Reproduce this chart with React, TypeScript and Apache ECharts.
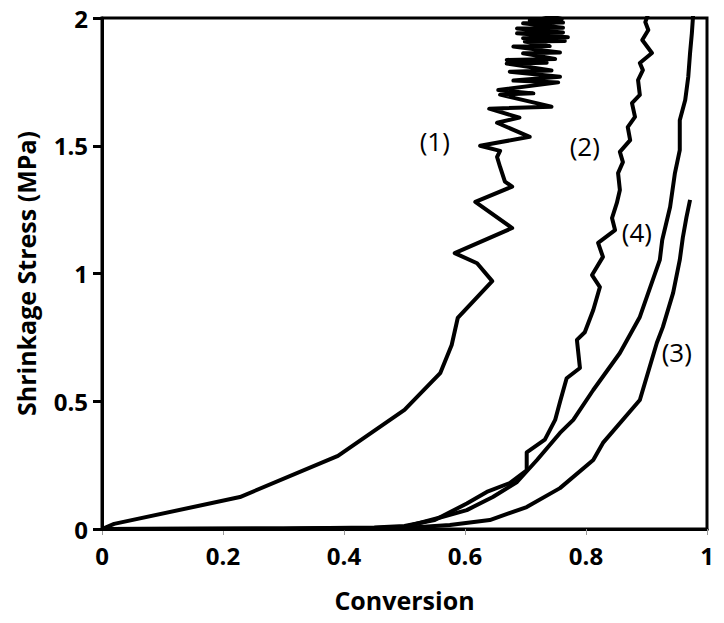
import React, { useEffect, useRef } from "react";
import * as echarts from "echarts";

const xTicks = { min: 0, max: 1, interval: 0.2 };
const yTicks = { min: 0, max: 2, interval: 0.5 };

const curve1: number[][] = [
  [0.0, 0.0], [0.02, 0.02], [0.228, 0.125], [0.39, 0.286], [0.5, 0.466], [0.559, 0.61],
  [0.578, 0.72], [0.588, 0.826], [0.645, 0.97], [0.62, 1.04], [0.583, 1.08], [0.678, 1.178],
  [0.617, 1.28], [0.678, 1.34], [0.666, 1.36], [0.658, 1.417], [0.653, 1.456], [0.658, 1.48],
  [0.625, 1.5], [0.707, 1.535], [0.653, 1.59], [0.69, 1.61], [0.64, 1.645], [0.743, 1.653],
  [0.658, 1.7], [0.713, 1.705], [0.655, 1.718], [0.754, 1.748], [0.68, 1.755], [0.757, 1.77],
  [0.674, 1.79], [0.743, 1.795], [0.669, 1.822], [0.735, 1.825], [0.669, 1.836], [0.749, 1.84],
  [0.696, 1.862], [0.757, 1.865], [0.68, 1.888], [0.74, 1.89], [0.699, 1.908], [0.765, 1.91],
  [0.696, 1.921], [0.77, 1.925], [0.686, 1.94], [0.762, 1.943], [0.686, 1.959], [0.762, 1.962],
  [0.696, 1.979], [0.762, 1.982], [0.707, 1.992], [0.76, 1.996], [0.72, 2.02],
];

const curve2: number[][] = [
  [0, 0], [0.3, 0.002], [0.45, 0.006], [0.5, 0.012], [0.55, 0.035], [0.603, 0.1], [0.636, 0.145],
  [0.674, 0.18], [0.702, 0.23], [0.702, 0.3], [0.732, 0.35], [0.749, 0.427], [0.757, 0.497],
  [0.768, 0.59], [0.79, 0.63], [0.785, 0.74], [0.798, 0.77], [0.812, 0.857], [0.823, 0.947],
  [0.81, 0.994], [0.828, 1.065], [0.82, 1.12], [0.848, 1.17], [0.843, 1.217], [0.851, 1.276],
  [0.856, 1.327], [0.853, 1.393], [0.861, 1.436], [0.856, 1.476], [0.873, 1.522], [0.869, 1.573],
  [0.881, 1.613], [0.876, 1.667], [0.889, 1.699], [0.886, 1.757], [0.894, 1.796], [0.889, 1.824],
  [0.909, 1.863], [0.893, 1.914], [0.903, 1.953], [0.898, 1.984], [0.902, 2.01],
];

const curve3: number[][] = [
  [0, 0], [0.3, 0.001], [0.5, 0.004], [0.575, 0.016], [0.641, 0.035], [0.702, 0.086],
  [0.757, 0.16], [0.812, 0.27], [0.828, 0.337], [0.889, 0.505], [0.917, 0.728], [0.927, 0.79],
  [0.944, 0.924], [0.955, 1.053], [0.96, 1.14], [0.966, 1.22], [0.972, 1.288],
];

const curve4: number[][] = [
  [0, 0], [0.3, 0.001], [0.45, 0.004], [0.5, 0.008], [0.559, 0.045], [0.603, 0.074],
  [0.646, 0.125], [0.686, 0.184], [0.719, 0.27], [0.757, 0.376], [0.779, 0.427], [0.812, 0.544],
  [0.856, 0.689], [0.889, 0.83], [0.922, 1.053], [0.926, 1.131], [0.939, 1.26], [0.947, 1.393],
  [0.955, 1.483], [0.955, 1.6], [0.964, 1.679], [0.969, 1.769], [0.972, 1.863], [0.975, 1.941],
  [0.977, 2.01],
];

const curveLabels = ["(1)", "(2)", "(3)", "(4)"];
const labelPositions: number[][] = [
  [0.55, 1.52], [0.798, 1.5], [0.95, 0.693], [0.884, 1.162],
];

const FONT = "'Open Sans', 'Noto Sans', sans-serif";

export default function App() {
  const ref = useRef<HTMLDivElement>(null);
  useEffect(() => {
    if (!ref.current) return;
    document.body.style.margin = "0";
    const chart = echarts.init(ref.current, undefined, { renderer: "svg" });
    const lineSeries = [curve1, curve2, curve3, curve4].map((d, i) => ({
      type: "line",
      name: curveLabels[i],
      data: d,
      showSymbol: false,
      symbol: "none",
      lineStyle: { color: "#000", width: 4, join: "round" },
      z: 3,
    }));
    chart.setOption({
      animation: false,
      backgroundColor: "#fff",
      grid: {
        left: 102, right: 17, top: 18, bottom: 94,
        show: true, borderColor: "#000", borderWidth: 3, backgroundColor: "transparent",
      },
      xAxis: {
        type: "value",
        min: xTicks.min, max: xTicks.max, interval: xTicks.interval,
        axisLine: { show: true, onZero: false, lineStyle: { color: "#000", width: 3 } },
        axisTick: { show: true, length: 6, lineStyle: { color: "#999", width: 1 } },
        splitLine: { show: false },
        axisLabel: {
          color: "#000", fontSize: 24, fontWeight: "bold", fontFamily: FONT, margin: 14,
        },
        name: "Conversion",
        nameLocation: "middle",
        nameGap: 58,
        nameTextStyle: { color: "#000", fontSize: 25, fontWeight: "bold", fontFamily: FONT },
      },
      yAxis: {
        type: "value",
        min: yTicks.min, max: yTicks.max, interval: yTicks.interval,
        axisLine: { show: true, onZero: false, lineStyle: { color: "#000", width: 3 } },
        axisTick: { show: true, length: 9, lineStyle: { color: "#000", width: 3 } },
        splitLine: { show: false },
        axisLabel: {
          color: "#000", fontSize: 24, fontWeight: "bold", fontFamily: FONT, margin: 14,
        },
        name: "Shrinkage Stress (MPa)",
        nameLocation: "middle",
        nameGap: 64,
        nameRotate: 90,
        nameTextStyle: { color: "#000", fontSize: 25, fontWeight: "bold", fontFamily: FONT },
      },
      series: [
        ...lineSeries,
        {
          type: "scatter",
          symbol: "circle",
          symbolSize: 1,
          itemStyle: { color: "#fff", opacity: 1 },
          data: labelPositions.map((p, i) => ({ value: p, name: curveLabels[i] })),
          label: {
            show: true,
            position: "inside",
            formatter: (p: any) => p.name,
            color: "#000",
            opacity: 1,
            fontSize: 26,
            fontFamily: FONT,
          },
          emphasis: { disabled: true },
          z: 4,
        },
      ],
    });
    return () => chart.dispose();
  }, []);
  return <div ref={ref} style={{ width: 724, height: 623 }} />;
}
